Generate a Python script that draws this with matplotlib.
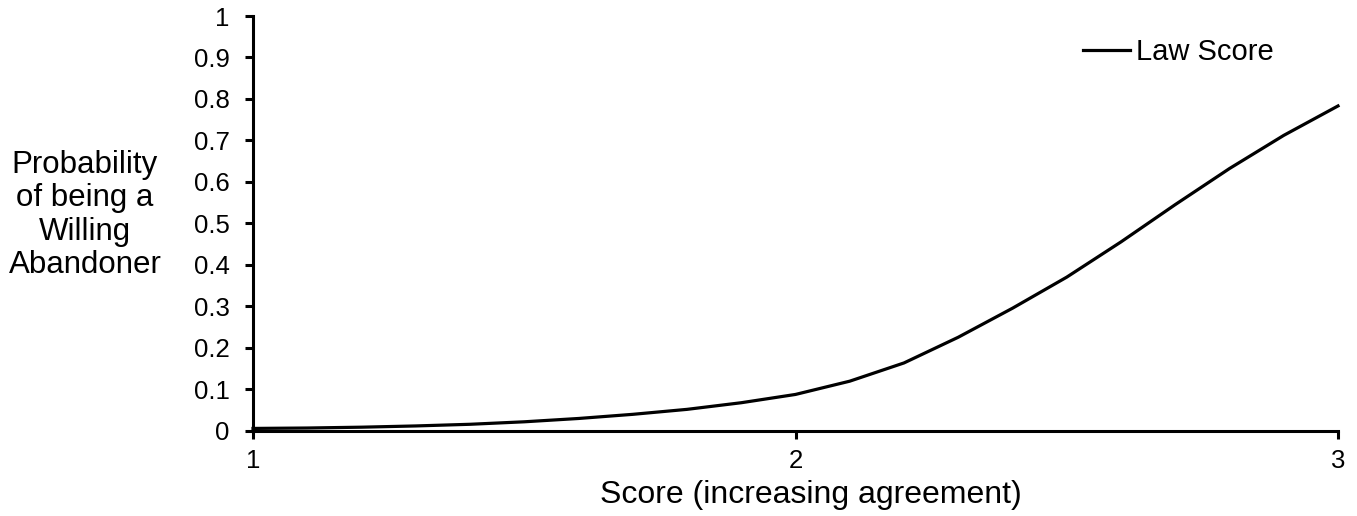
import matplotlib
matplotlib.use("Agg")
import matplotlib.pyplot as plt

# Data
score = [1.0, 1.1, 1.2, 1.3, 1.4, 1.5, 1.6, 1.7, 1.8, 1.9, 2.0,
         2.1, 2.2, 2.3, 2.4, 2.5, 2.6, 2.7, 2.8, 2.9, 3.0]
prob_law = [0.005, 0.006, 0.008, 0.011, 0.015, 0.021, 0.029, 0.039, 0.051, 0.067, 0.087,
            0.119, 0.163, 0.225, 0.295, 0.370, 0.455, 0.545, 0.632, 0.712, 0.783]
series_label = "Law Score"
x_ticks = [1, 2, 3]
y_ticks = [0, 0.1, 0.2, 0.3, 0.4, 0.5, 0.6, 0.7, 0.8, 0.9, 1.0]
y_tick_labels = ["0", "0.1", "0.2", "0.3", "0.4", "0.5", "0.6", "0.7", "0.8", "0.9", "1"]
x_label = "Score (increasing agreement)"
y_label = "Probability\nof being a\nWilling\nAbandoner"

plt.rcParams['font.family'] = ['Liberation Sans', 'DejaVu Sans']

W, H = 1357, 516
fig = plt.figure(figsize=(W / 100, H / 100), dpi=100)
ax = fig.add_axes([253 / W, 1 - 430.5 / H, (1338 - 253) / W, (430.5 - 16) / H])

ax.plot(score, prob_law, color='black', lw=2.3, label=series_label, clip_on=False, zorder=3)

ax.set_xlim(1, 3)
ax.set_ylim(0, 1)
ax.set_xticks(x_ticks)
ax.set_xticklabels([str(t) for t in x_ticks])
ax.set_yticks(y_ticks)
ax.set_yticklabels(y_tick_labels)

for s in ['top', 'right']:
    ax.spines[s].set_visible(False)
for s in ['left', 'bottom']:
    ax.spines[s].set_linewidth(2.2)
    ax.spines[s].set_color('black')

ax.tick_params(axis='both', direction='out', length=6, width=2.2, colors='black',
               labelsize=18.5, labelcolor='black')
ax.tick_params(axis='y', pad=11)
ax.tick_params(axis='x', pad=7)

ax.set_xlabel(x_label, fontsize=23, labelpad=2)
ax.xaxis.set_label_coords((811 - 253) / (1338 - 253), -(495 - 430.5) / 414.5)
ax.xaxis.label.set_va('center')

fig.text(85 / W, 1 - 215 / H, y_label, fontsize=22.5, ha='center', va='center',
         multialignment='center', linespacing=1.15)

leg = ax.legend(loc='upper left', bbox_to_anchor=((1083 - 253) / 1085, (430.5 - 38) / 414.5),
                frameon=False, borderaxespad=0, borderpad=0, handlelength=1.6,
                handletextpad=0.2, fontsize=21)

fig.savefig('out.png', dpi=100, facecolor='white')
